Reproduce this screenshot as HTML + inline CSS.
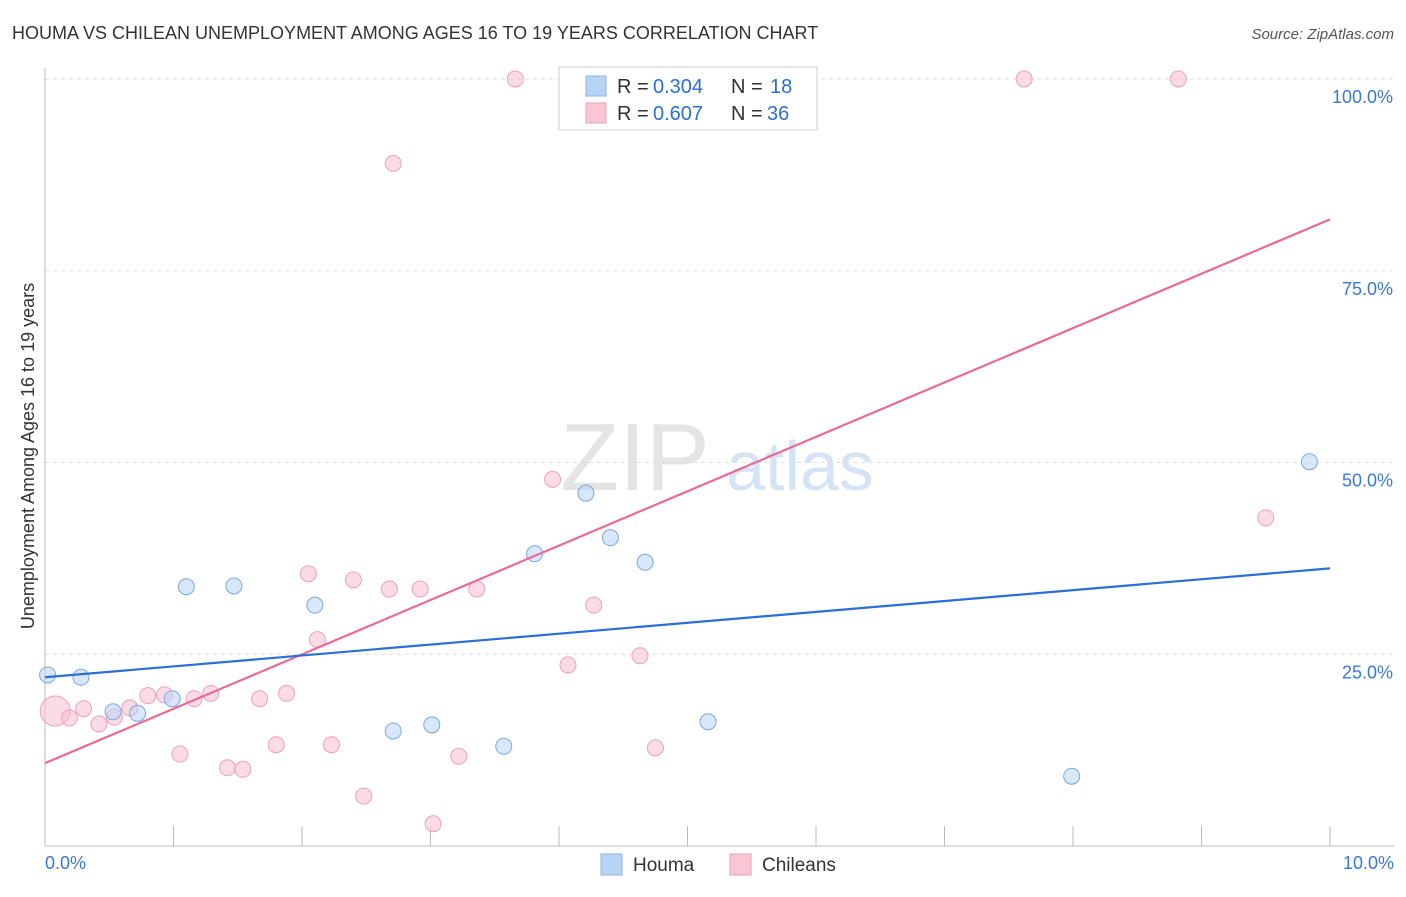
<!DOCTYPE html>
<html><head><meta charset="utf-8">
<style>
body{margin:0;background:#fff;font-family:"Liberation Sans",sans-serif;}
svg text{font-family:"Liberation Sans",sans-serif;}
</style></head>
<body>
<svg id="chart" width="1406" height="892" xmlns="http://www.w3.org/2000/svg">
<text x="12" y="39" font-size="18" fill="#333">HOUMA VS CHILEAN UNEMPLOYMENT AMONG AGES 16 TO 19 YEARS CORRELATION CHART</text>
<text x="1394" y="39" font-size="15" fill="#555" text-anchor="end" font-style="italic">Source: ZipAtlas.com</text>
<text x="635" y="490" font-size="96" fill="#e4e4e4" font-family="Liberation Serif" text-anchor="middle">ZIP</text>
<text x="800" y="490" font-size="70" fill="#d4e3f5" text-anchor="middle">atlas</text>
<text transform="translate(34,456) rotate(-90)" font-size="18" fill="#333" text-anchor="middle">Unemployment Among Ages 16 to 19 years</text>
<g id="grid"></g>
<g id="marks"></g>
<g>
<rect x="559" y="67" width="258" height="63" fill="#fff" stroke="#ccc"/>
<rect x="586" y="76" width="20" height="20" fill="#b8d4f5" stroke="#8ab4e8"/>
<text x="617" y="93" font-size="20" fill="#333">R =</text>
<text x="653" y="93" font-size="20" fill="#2a6fd6">0.304</text>
<text x="731" y="93" font-size="20" fill="#333">N =</text>
<text x="770" y="93" font-size="20" fill="#2a6fd6">18</text>
<rect x="586" y="103" width="20" height="20" fill="#f8c6d4" stroke="#eea0b8"/>
<text x="617" y="120" font-size="20" fill="#333">R =</text>
<text x="653" y="120" font-size="20" fill="#2a6fd6">0.607</text>
<text x="731" y="120" font-size="20" fill="#333">N =</text>
<text x="767" y="120" font-size="20" fill="#2a6fd6">36</text>
</g>
<g>
<rect x="601" y="854" width="21" height="21" fill="#b8d4f5" stroke="#8ab4e8"/>
<text x="633" y="871" font-size="19" fill="#333">Houma</text>
<rect x="730" y="854" width="21" height="21" fill="#f8c6d4" stroke="#eea0b8"/>
<text x="762" y="871" font-size="19" fill="#333">Chileans</text>
</g>
</svg>
<script>
const houmaX=[0.02,0.28,0.53,0.72,0.99,1.10,1.47,2.10,2.71,3.01,3.57,3.81,4.21,4.40,4.67,5.16,7.99,9.84];
const houmaY=[22.3,22.0,17.5,17.3,19.2,33.8,33.9,31.4,15.0,15.8,13.0,38.1,46.0,40.2,37.0,16.2,9.1,50.1];
const chileX=[0.08,0.19,0.30,0.42,0.54,0.66,0.80,0.93,1.05,1.16,1.29,1.42,1.54,1.67,1.80,1.88,2.05,2.12,2.23,2.40,2.48,2.68,2.71,2.92,3.02,3.22,3.36,3.66,3.95,4.07,4.27,4.63,4.75,7.62,8.82,9.50];
const chileY=[17.6,16.7,17.9,15.9,16.8,18.0,19.6,19.7,12.0,19.2,19.9,10.2,10.0,19.2,13.2,19.9,35.5,26.9,13.2,34.7,6.5,33.5,89.0,33.5,2.9,11.7,33.5,100,47.8,23.6,31.4,24.8,12.8,100,100,42.8];
const houmaLine=[22.0,36.2];
const chileLine=[10.8,81.7];
const yTicks=[25,50,75,100];
const xTickLabels=["0.0%","10.0%"];
const X=v=>45+v*128.5, Y=v=>846-v*7.67;
const NS="http://www.w3.org/2000/svg";
function mk(t,a,p){const e=document.createElementNS(NS,t);for(const k in a)e.setAttribute(k,a[k]);p.appendChild(e);return e;}
const g=document.getElementById('grid'), m=document.getElementById('marks');
yTicks.forEach(t=>{
 const l=mk('line',{x1:45,x2:1394,y1:Y(t),y2:Y(t),stroke:'#ddd','stroke-dasharray':'4,4'},g);
 
 
 const tx=mk('text',{x:1393,y:Y(t)+24,'font-size':18,fill:'#3a78d8','text-anchor':'end'},g);tx.textContent=t.toFixed(1)+'%';
 
 
});
const ax=mk('line',{x1:45,x2:1394,y1:846,y2:846,stroke:'#bbb'},g);


const ay=mk('line',{x1:45,x2:45,y1:68,y2:846,stroke:'#bbb'},g);


for(let i=1;i<=10;i++){const tk=mk('line',{x1:X(i),x2:X(i),y1:826,y2:846,stroke:'#bbb'},g);
 
 }
[[0,'start',45],[10,'end',1394]].forEach((d,i)=>{const tx=mk('text',{x:d[2],y:869,'font-size':18,fill:'#3a78d8','text-anchor':d[1]},g);tx.textContent=xTickLabels[i];
 
 });
chileX.forEach((x,i)=>{const c=mk('circle',{cx:X(x),cy:Y(chileY[i]),r:i===0?15:8,fill:'rgba(248,190,208,0.55)',stroke:'#eea0b8','stroke-width':1},m);
 
 });
houmaX.forEach((x,i)=>{const c=mk('circle',{cx:X(x),cy:Y(houmaY[i]),r:8,fill:'rgba(184,212,245,0.55)',stroke:'#7aa8e0','stroke-width':1},m);
 
 });
const pl=mk('line',{x1:X(0),y1:Y(chileLine[0]),x2:X(10),y2:Y(chileLine[1]),stroke:'#e86a96','stroke-width':2.2},m);


const bl=mk('line',{x1:X(0),y1:Y(houmaLine[0]),x2:X(10),y2:Y(houmaLine[1]),stroke:'#2a6fd6','stroke-width':2.2},m);


</script>
</body></html>
